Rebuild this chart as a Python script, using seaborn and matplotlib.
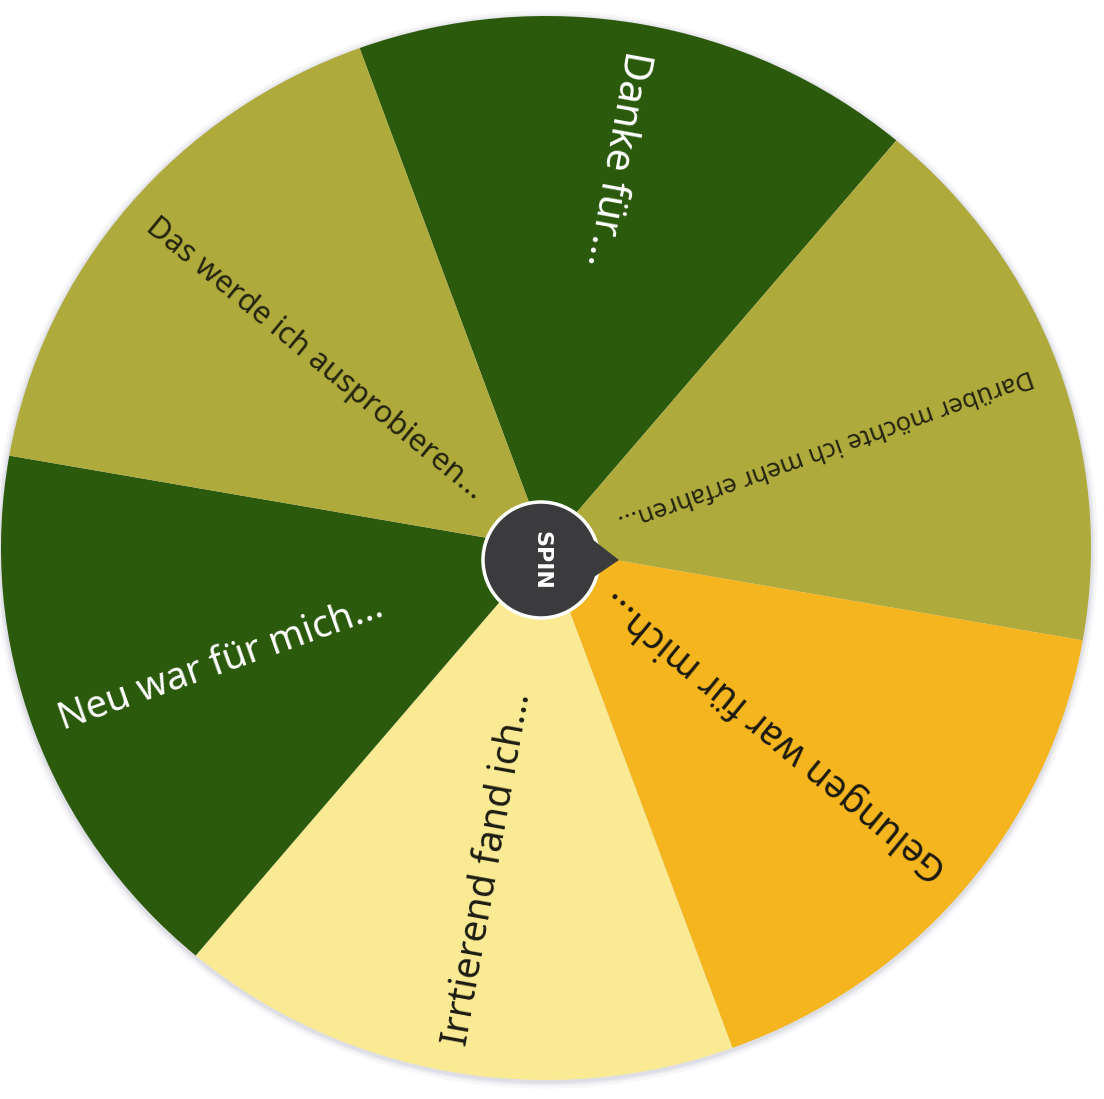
import numpy as np
import matplotlib
matplotlib.use("Agg")
import matplotlib.pyplot as plt
import seaborn as sns
from matplotlib.patches import Ellipse, Polygon

# wheel segments, clockwise from the top
labels = [
    "Danke für...",
    "Darüber möchte ich mehr erfahren...",
    "Gelungen war für mich...",
    "Irrtierend fand ich...",
    "Neu war für mich...",
    "Das werde ich ausprobieren...",
]
shares = [1, 1, 1, 1, 1, 1]
slice_colors = ["#2b5a0d", "#aeaa3b", "#f4b51f", "#fbea94", "#2b5a0d", "#aeaa3b"]
text_colors = ["white", "#23230f", "#1c1a10", "#1c1c14", "white", "#23230f"]
font_sizes = [29, 18.3, 27, 27.5, 27.5, 22]

sns.set_theme(style="white")
plt.rcParams["font.family"] = ["Noto Sans", "DejaVu Sans"]

W, H = 1104, 1099
cx, cy = 546, 548      # wheel centre (pixels, from top-left)
rx, ry = 545, 532      # wheel is slightly squashed vertically


def px(x, y):
    return (x - cx) / rx, (cy - y) / ry


fig = plt.figure(figsize=(W / 100, H / 100), dpi=100)
ax = fig.add_axes([0, 0, 1, 1])

# soft shadow round the rim
for grow, a in [(7, 0.10), (4, 0.18), (2, 0.25)]:
    ax.add_patch(Ellipse((0, -0.003), 2 * (rx + grow) / rx, 2 * (ry + grow) / ry,
                         facecolor="#b8b8c8", edgecolor="none", alpha=a, zorder=0))

ax.pie(shares, colors=slice_colors, startangle=110, counterclock=False,
       radius=1.0, wedgeprops=dict(linewidth=0))
ax.set_aspect("auto")
ax.set_xlim(-cx / rx, (W - cx) / rx)
ax.set_ylim(-(H - cy) / ry, cy / ry)
ax.axis("off")

# radial labels, reading from the rim toward the hub
start = 110
step = 360 / len(labels)
for i, (lab, col, fs) in enumerate(zip(labels, text_colors, font_sizes)):
    mid = np.deg2rad(start - step * i - step / 2)
    r = 0.95
    x, y = r * np.cos(mid), r * np.sin(mid)
    rot = np.rad2deg(np.arctan2(ry * np.sin(mid), rx * np.cos(mid))) + 180
    ax.text(x, y, lab, color=col, fontsize=fs, rotation=rot,
            rotation_mode="anchor", ha="left", va="center", zorder=3)

# hub with pointer
hx, hy = px(541, 560)
hr = 58
ax.add_patch(Ellipse((hx, hy), 2 * hr / rx, 2 * hr / ry, facecolor="#3b3a3c",
                     edgecolor="white", linewidth=2.5, zorder=5))
ax.add_patch(Polygon([px(588, 536), px(619, 560), px(588, 581)], closed=True,
                     facecolor="#3b3a3c", edgecolor="none", zorder=6))
ax.text(hx, hy, "SPIN", color="white", fontsize=16, fontweight="bold",
        family=["DejaVu Sans"], rotation=-90, ha="center", va="center", zorder=7)

fig.savefig("out.png", dpi=100, facecolor="white")
